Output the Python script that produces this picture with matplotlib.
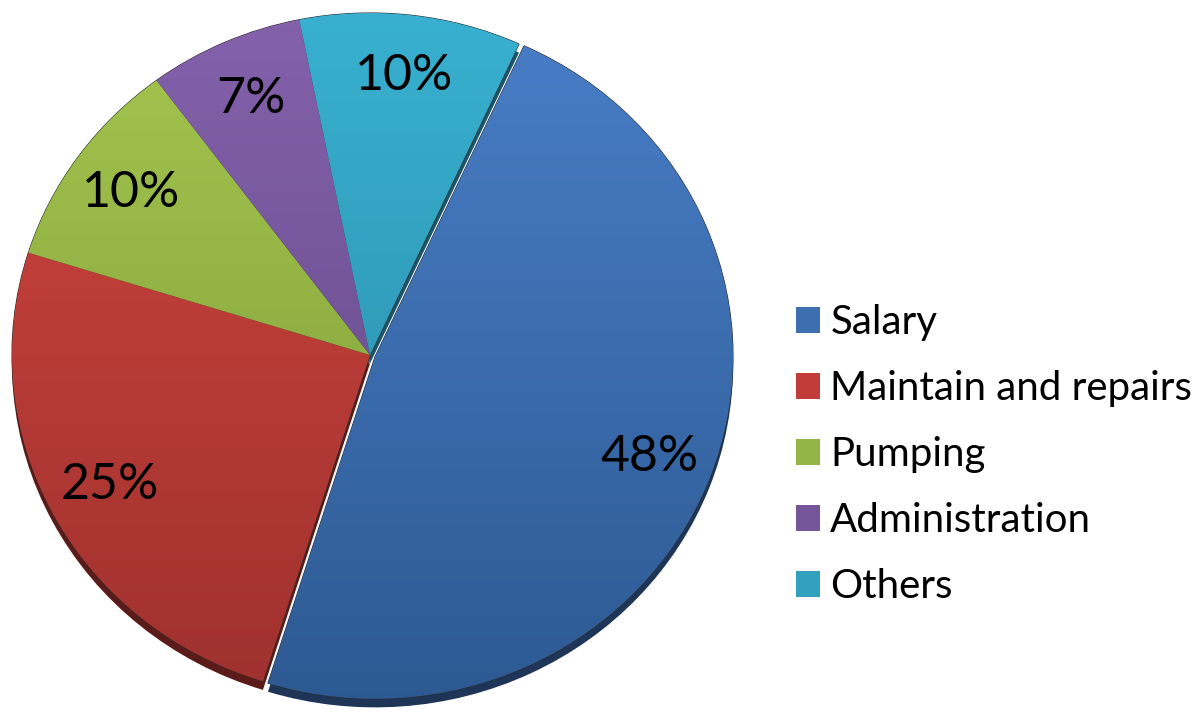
import numpy as np
import matplotlib
matplotlib.use('Agg')
import matplotlib.pyplot as plt
from matplotlib.colors import LinearSegmentedColormap

categories = ['Salary', 'Maintain and repairs', 'Pumping', 'Administration', 'Others']
shares = [48, 25, 10, 7, 10]

mid_colors = ['#3D6FB0', '#C23D39', '#93B446', '#74559A', '#33A0C0']
top_colors = ['#4A80CA', '#D4463F', '#A6C850', '#8663AE', '#39B2D2']
bottom_colors = ['#2C5890', '#9C302D', '#7A9636', '#5C4380', '#2886A2']
rim_colors = ['#1E3558', '#5A1B19', '#4F6222', '#3A2A52', '#1A5569']

plt.rcParams['font.family'] = ['Lato', 'DejaVu Sans']

fig = plt.figure(figsize=(11.93, 7.15), dpi=100)
ax = fig.add_axes([0, 0, 1, 1])

explode = [0.015, 0, 0, 0, 0]
start = 65.4

# 3D-like rim (side of the pie)
ax.pie(shares, colors=rim_colors, startangle=start, counterclock=False,
       explode=explode, center=(0, -0.025), radius=1.0,
       wedgeprops=dict(linewidth=0))

wedges, texts, autotexts = ax.pie(
    shares, colors=mid_colors, startangle=start, counterclock=False,
    explode=explode, autopct='%d%%', pctdistance=0.82, radius=1.0,
    wedgeprops=dict(linewidth=0.8, edgecolor='#2a2a2a'),
    textprops=dict(fontsize=36, color='black'))

# vertical gradient inside each slice
for w, ct, cb in zip(wedges, top_colors, bottom_colors):
    cmap = LinearSegmentedColormap.from_list('g', [cb, ct])
    grad = np.linspace(0, 1, 256).reshape(-1, 1)
    im = ax.imshow(grad, cmap=cmap, origin='lower', aspect='auto',
                   extent=[-1.1, 1.1, -1.1, 1.1], zorder=w.get_zorder() + 0.1)
    im.set_clip_path(w)
for t in autotexts:
    t.set_zorder(10)

ax.set_aspect('auto')
sx, sy = 358.0, 342.0
cx, cy = 370.0, 355.0
ax.set_xlim(-cx / sx, (1193 - cx) / sx)
ax.set_ylim(-(715 - cy) / sy, cy / sy)
ax.axis('off')

leg = ax.legend(wedges, categories, loc='upper left',
                bbox_to_anchor=(796 / 1193, 1 - 304 / 715),
                bbox_transform=fig.transFigure, frameon=False,
                fontsize=29, handlelength=0.6, handleheight=0.6,
                handletextpad=0.25, labelspacing=0.72, borderpad=0,
                borderaxespad=0)
for h, c in zip(leg.legend_handles, mid_colors):
    h.set_edgecolor('none')
    h.set_facecolor(c)

fig.savefig('out.png', dpi=100)
